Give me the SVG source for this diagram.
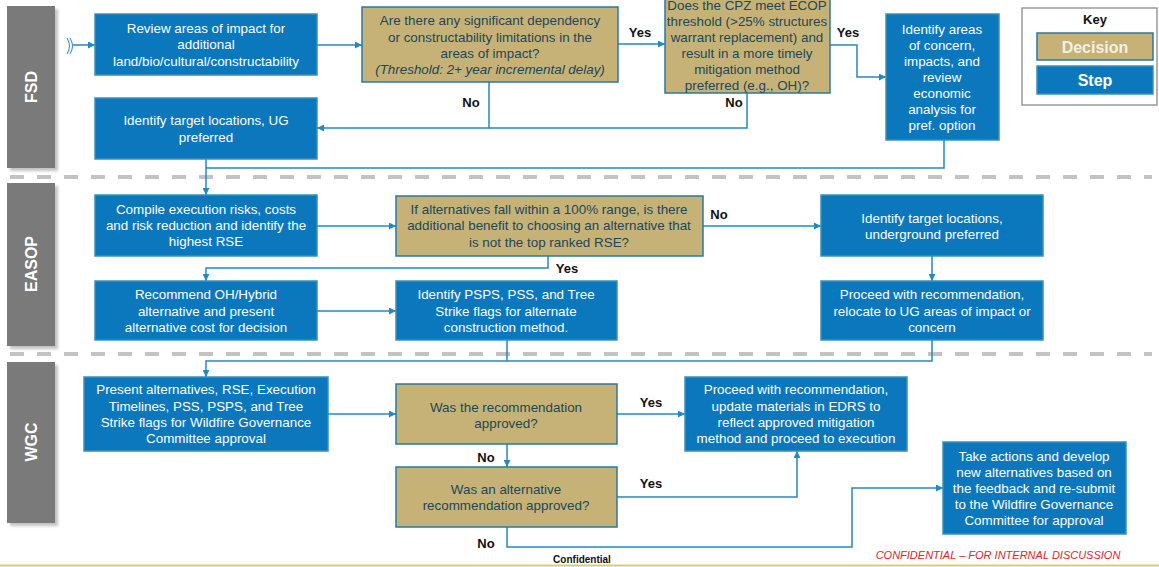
<svg xmlns="http://www.w3.org/2000/svg" width="1159" height="567" viewBox="0 0 1159 567">
<defs>
<marker id="arr" viewBox="0 0 10 10" refX="10" refY="5" markerWidth="7" markerHeight="7" markerUnits="userSpaceOnUse" orient="auto">
<path d="M0,0 L10,5 L0,10 z" fill="#2389c2"/>
</marker>
<filter id="sh" x="-20%" y="-20%" width="150%" height="150%">
<feDropShadow dx="3" dy="3" stdDeviation="1.5" flood-color="#999" flood-opacity="0.6"/>
</filter>
</defs>
<style>
.step{fill:#0b78bd;stroke:#3a90b8;stroke-width:1.5}
.dec{fill:#c6b277;stroke:#2a7aa0;stroke-width:1.5}
.st{font-family:"Liberation Sans",Arial,sans-serif;font-size:13.4px;fill:#ffffff;text-anchor:middle}
.dt{font-family:"Liberation Sans",Arial,sans-serif;font-size:13.4px;fill:#21475a;text-anchor:middle}
.lbl{font-family:"Liberation Sans",Arial,sans-serif;font-size:13px;font-weight:bold;fill:#111;text-anchor:middle}
.lane{fill:#7a7a7a}
.lt{font-family:"Liberation Sans",Arial,sans-serif;font-size:16px;font-weight:bold;fill:#fff;text-anchor:middle}
.con{fill:none;stroke:#2389c2;stroke-width:1.5}
.sep{stroke:#c3c3c3;stroke-width:4;stroke-dasharray:14 13}
</style>
<rect width="1159" height="567" fill="#ffffff"/>

<!-- separators -->
<line class="sep" x1="10" y1="177" x2="1152" y2="177"/>
<line class="sep" x1="10" y1="354" x2="1152" y2="354"/>

<!-- lanes -->
<g id="lane-fsd"><rect class="lane" x="7" y="6" width="48" height="162" filter="url(#sh)"/><text class="lt" transform="translate(37,87) rotate(-90)">FSD</text></g>
<g id="lane-easop"><rect class="lane" x="7" y="183" width="48" height="163" filter="url(#sh)"/><text class="lt" transform="translate(37,264) rotate(-90)">EASOP</text></g>
<g id="lane-wgc"><rect class="lane" x="7" y="362" width="48" height="161" filter="url(#sh)"/><text class="lt" transform="translate(37,442) rotate(-90)">WGC</text></g>

<!-- connectors -->
<g id="connectors">
<path d="M67,38 Q72,46 67,54 M70,38 Q75,46 70,54" fill="none" stroke="#2389c2" stroke-width="1"/>
<path class="con" d="M73,45 L95,45" marker-end="url(#arr)"/>
<path class="con" d="M317,45 L362,45" marker-end="url(#arr)"/>
<path class="con" d="M618,44 L665,44" marker-end="url(#arr)"/>
<path class="con" d="M830,45 L857,45 L857,77 L886,77" marker-end="url(#arr)"/>
<path class="con" d="M489,82 L489,128 L317,128" marker-end="url(#arr)"/>
<path class="con" d="M747,93 L747,128 L489,128"/>
<path class="con" d="M944,140 L944,168 L206,168"/>
<path class="con" d="M206,159 L206,195" marker-end="url(#arr)"/>
<path class="con" d="M317,226 L396,226" marker-end="url(#arr)"/>
<path class="con" d="M703,226 L821,226" marker-end="url(#arr)"/>
<path class="con" d="M548,256 L548,268 L206,268 L206,281" marker-end="url(#arr)"/>
<path class="con" d="M317,311 L396,311" marker-end="url(#arr)"/>
<path class="con" d="M932,256 L932,281" marker-end="url(#arr)"/>
<path class="con" d="M507,340 L507,361"/>
<path class="con" d="M932,340 L932,361 L206,361 L206,377" marker-end="url(#arr)"/>
<path class="con" d="M328,414 L396,414" marker-end="url(#arr)"/>
<path class="con" d="M617,414 L685,414" marker-end="url(#arr)"/>
<path class="con" d="M507,444 L507,467" marker-end="url(#arr)"/>
<path class="con" d="M617,497 L797,497 L797,451" marker-end="url(#arr)"/>
<path class="con" d="M507,527 L507,547 L852,547 L852,488 L943,488" marker-end="url(#arr)"/>
<text class="lbl" x="640" y="37">Yes</text>
<text class="lbl" x="848" y="37">Yes</text>
<text class="lbl" x="471" y="107">No</text>
<text class="lbl" x="734" y="107">No</text>
<text class="lbl" x="719" y="219">No</text>
<text class="lbl" x="567" y="273">Yes</text>
<text class="lbl" x="651" y="407">Yes</text>
<text class="lbl" x="486" y="462">No</text>
<text class="lbl" x="651" y="488">Yes</text>
<text class="lbl" x="486" y="548">No</text>
</g>

<!-- FSD nodes -->
<g id="n-review"><rect class="step" x="95" y="14" width="222" height="61"/>
<text class="st" x="206" y="33">Review areas of impact for</text>
<text class="st" x="206" y="49">additional</text>
<text class="st" x="206" y="66">land/bio/cultural/constructability</text></g>

<g id="n-dep"><rect class="dec" x="362" y="7" width="256" height="75"/>
<text class="dt" x="490" y="25">Are there any significant dependency</text>
<text class="dt" x="490" y="42">or constructability limitations in the</text>
<text class="dt" x="490" y="58">areas of impact?</text>
<text class="dt" x="490" y="74" font-style="italic">(Threshold: 2+ year incremental delay)</text></g>

<g id="n-cpz"><rect class="dec" x="665" y="-5" width="165" height="98"/>
<text class="dt" x="747" y="10">Does the CPZ meet ECOP</text>
<text class="dt" x="747" y="26">threshold (&gt;25% structures</text>
<text class="dt" x="747" y="42">warrant replacement) and</text>
<text class="dt" x="747" y="58">result in a more timely</text>
<text class="dt" x="747" y="74">mitigation method</text>
<text class="dt" x="747" y="90">preferred (e.g., OH)?</text></g>

<g id="n-concern"><rect class="step" x="886" y="14" width="113" height="126"/>
<text class="st" x="942" y="34">Identify areas</text>
<text class="st" x="942" y="50">of concern,</text>
<text class="st" x="942" y="66">impacts, and</text>
<text class="st" x="942" y="82">review</text>
<text class="st" x="942" y="98">economic</text>
<text class="st" x="942" y="114">analysis for</text>
<text class="st" x="942" y="130">pref. option</text></g>

<g id="n-ug"><rect class="step" x="95" y="98" width="222" height="61"/>
<text class="st" x="206" y="125">Identify target locations, UG</text>
<text class="st" x="206" y="142">preferred</text></g>

<g id="key"><rect x="1022" y="8" width="135" height="97" fill="#fff" stroke="#9a9a9a" stroke-width="1.5"/>
<text x="1095" y="24" font-family="Liberation Sans, Arial, sans-serif" font-size="13" font-weight="bold" fill="#111" text-anchor="middle">Key</text>
<rect class="dec" x="1037" y="33" width="116" height="27"/>
<text x="1095" y="53" font-family="Liberation Sans, Arial, sans-serif" font-size="16" font-weight="bold" fill="#f4f0e4" text-anchor="middle">Decision</text>
<rect class="step" x="1037" y="66" width="116" height="28"/>
<text x="1095" y="86" font-family="Liberation Sans, Arial, sans-serif" font-size="16" font-weight="bold" fill="#fff" text-anchor="middle">Step</text></g>

<!-- EASOP nodes -->
<g id="n-compile"><rect class="step" x="95" y="195" width="222" height="61"/>
<text class="st" x="206" y="214">Compile execution risks, costs</text>
<text class="st" x="206" y="230">and risk reduction and identify the</text>
<text class="st" x="206" y="246">highest RSE</text></g>

<g id="n-range"><rect class="dec" x="396" y="196" width="307" height="60"/>
<text class="dt" x="549" y="214">If alternatives fall within a 100% range, is there</text>
<text class="dt" x="549" y="230">additional benefit to choosing an alternative that</text>
<text class="dt" x="549" y="247">is not the top ranked RSE?</text></g>

<g id="n-underground"><rect class="step" x="821" y="195" width="222" height="61"/>
<text class="st" x="932" y="223">Identify target locations,</text>
<text class="st" x="932" y="239">underground preferred</text></g>

<g id="n-recommend"><rect class="step" x="95" y="281" width="222" height="59"/>
<text class="st" x="206" y="299">Recommend OH/Hybrid</text>
<text class="st" x="206" y="316">alternative and present</text>
<text class="st" x="206" y="332">alternative cost for decision</text></g>

<g id="n-psps"><rect class="step" x="396" y="281" width="221" height="59"/>
<text class="st" x="506" y="299">Identify PSPS, PSS, and Tree</text>
<text class="st" x="506" y="316">Strike flags for alternate</text>
<text class="st" x="506" y="332">construction method.</text></g>

<g id="n-relocate"><rect class="step" x="821" y="281" width="222" height="59"/>
<text class="st" x="932" y="299">Proceed with recommendation,</text>
<text class="st" x="932" y="316">relocate to UG areas of impact or</text>
<text class="st" x="932" y="332">concern</text></g>

<!-- WGC nodes -->
<g id="n-present"><rect class="step" x="84" y="377" width="244" height="74"/>
<text class="st" x="206" y="394">Present alternatives, RSE, Execution</text>
<text class="st" x="206" y="411">Timelines, PSS, PSPS, and Tree</text>
<text class="st" x="206" y="427">Strike flags for Wildfire Governance</text>
<text class="st" x="206" y="443">Committee approval</text></g>

<g id="n-approved"><rect class="dec" x="396" y="384" width="221" height="60"/>
<text class="dt" x="506" y="412">Was the recommendation</text>
<text class="dt" x="506" y="428">approved?</text></g>

<g id="n-proceed"><rect class="step" x="685" y="377" width="222" height="74"/>
<text class="st" x="796" y="394">Proceed with recommendation,</text>
<text class="st" x="796" y="411">update materials in EDRS to</text>
<text class="st" x="796" y="427">reflect approved mitigation</text>
<text class="st" x="796" y="443">method and proceed to execution</text></g>

<g id="n-alt"><rect class="dec" x="396" y="467" width="221" height="60"/>
<text class="dt" x="506" y="494">Was an alternative</text>
<text class="dt" x="506" y="510">recommendation approved?</text></g>

<g id="n-actions"><rect class="step" x="943" y="442" width="183" height="92"/>
<text class="st" x="1034" y="461">Take actions and develop</text>
<text class="st" x="1034" y="477">new alternatives based on</text>
<text class="st" x="1034" y="493">the feedback and re-submit</text>
<text class="st" x="1034" y="509">to the Wildfire Governance</text>
<text class="st" x="1034" y="525">Committee for approval</text></g>

<!-- footer -->
<text x="582" y="563" font-family="Liberation Sans, Arial, sans-serif" font-size="10" font-weight="bold" fill="#111" text-anchor="middle">Confidential</text>
<text x="998" y="559" font-family="Liberation Sans, Arial, sans-serif" font-size="11" font-style="italic" fill="#d9262a" text-anchor="middle">CONFIDENTIAL – FOR INTERNAL DISCUSSION</text>
<line x1="0" y1="565.5" x2="1159" y2="565.5" stroke="#d8cc78" stroke-width="2"/>
</svg>
